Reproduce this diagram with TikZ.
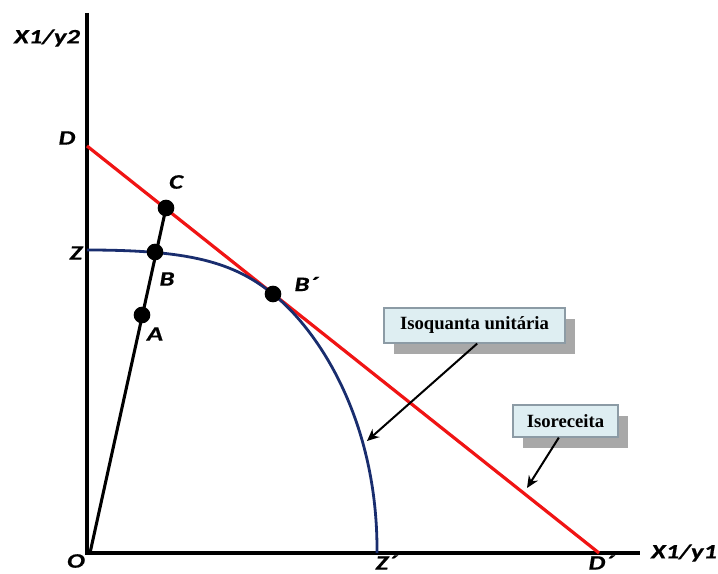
\documentclass[tikz,border=0pt]{standalone}
\usepackage{fontspec}
\setmainfont{Liberation Serif}
\newfontfamily\lblfont{Carlito}[FakeStretch=1.3,FakeBold=0.6]
\usetikzlibrary{arrows.meta,shadows}
\definecolor{isoblue}{RGB}{25,45,110}
\definecolor{isored}{RGB}{240,20,20}
\definecolor{boxfill}{RGB}{222,238,242}
\definecolor{boxline}{RGB}{140,155,165}
\definecolor{shadowgray}{RGB}{168,168,168}
\begin{document}
\begin{tikzpicture}[x=0.75pt,y=-0.75pt,
  lbl/.style={font=\lblfont\bfseries\itshape\fontsize{15.4pt}{18pt}\selectfont, inner sep=0pt},
  dot/.style={circle, fill=black, minimum size=12.5pt, inner sep=0pt},
  axisline/.style={line width=2.3pt, black},
  rayline/.style={line width=2.3pt, black},
  budget/.style={line width=2.4pt, isored},
  isoq/.style={line width=2.1pt, isoblue},
  callout/.style={draw=boxline, line width=0.9pt, fill=boxfill, inner sep=0pt,
    font=\bfseries\fontsize{14pt}{16pt}\selectfont,
    drop shadow={shadow xshift=7.5pt, shadow yshift=-8pt, fill=shadowgray, opacity=1}},
  pointer/.style={line width=1.5pt, black, -{Stealth[length=9pt,width=8pt]}}]
\useasboundingbox (0,0) rectangle (718,574);

% axes
\coordinate (ytop) at (87,13);
\coordinate (orig) at (87,553);
\coordinate (xend) at (640,553);
\draw[axisline] (ytop) -- (orig) -- (xend);

% key points
\coordinate (O) at (90,553);
\coordinate (D) at (87,146);
\coordinate (Dp) at (599,553);
\coordinate (Z) at (87,250);
\coordinate (Zp) at (377,553);

% budget line (isoreceita)
\draw[budget] (D) -- (Dp);

% unit isoquant
\draw[isoq] (Z) .. controls (190,250) and (233,262) .. (273,294)
  .. controls (318,330) and (378,420) .. (Zp);

% dots
\node[dot] (C) at (166,208) {};
\node[dot] (B) at (155,252) {};
\node[dot] (A) at (142,315) {};
\node[dot] (Bp) at (273,294) {};

% ray from origin
\draw[rayline] (O) -- (C.center);

% labels
\node[lbl] (lX2) at (47,38) {X1/y2};
\node[lbl] (lD) at (67,138) {D};
\node[lbl] (lC) at (176,182) {C};
\node[lbl] (lZ) at (76,253) {Z};
\node[lbl] (lB) at (167,279) {B};
\node[lbl] (lBp) at (306,284) {B´};
\node[lbl] (lA) at (155,334) {A};
\node[lbl] (lO) at (76,561) {O};
\node[lbl] (lZp) at (386,562.5) {Z´};
\node[lbl] (lDp) at (601,562.5) {D´};
\node[lbl] (lX1) at (684,553) {X1/y1};

% callouts
\node[callout, minimum width=135.75pt, minimum height=26.25pt] (iso) at (474.5,325.5) {Isoquanta unitária};
\node[callout, minimum width=78.75pt, minimum height=24pt] (rec) at (565.5,421) {Isoreceita};
\coordinate (tip1) at (367,441);
\coordinate (tip2) at (527,488);
\draw[pointer] ([xshift=2pt]iso.south) -- (tip1);
\draw[pointer] ([xshift=-5pt]rec.south) -- (tip2);
\end{tikzpicture}
\end{document}
